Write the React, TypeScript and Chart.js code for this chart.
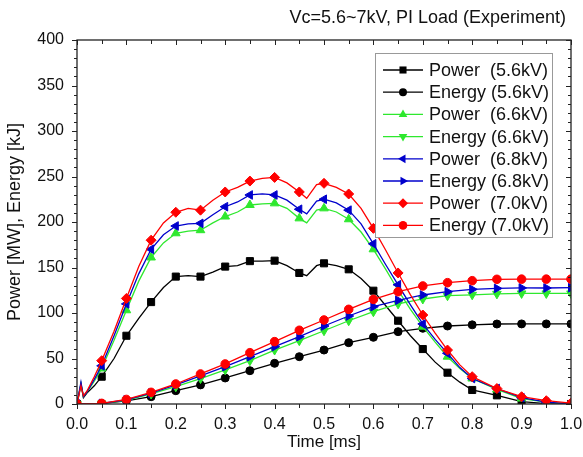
import React, { useEffect, useRef } from "react";
import { Chart, registerables } from "chart.js";
Chart.register(...registerables);

const TITLE = "Vc=5.6~7kV, PI Load (Experiment)";
const X_TITLE = "Time [ms]";
const Y_TITLE = "Power [MW], Energy [kJ]";
const FONT = "'Liberation Sans', Arial, sans-serif";

// Power curves: time [ms]
const powerTime = [
  0, 0.008, 0.013, 0.02, 0.035, 0.05, 0.075, 0.1, 0.125, 0.15, 0.175, 0.2, 0.225, 0.25, 0.275,
  0.3, 0.325, 0.35, 0.375, 0.4, 0.425, 0.45, 0.465, 0.485, 0.5, 0.525, 0.55, 0.575, 0.6, 0.625,
  0.65, 0.675, 0.7, 0.725, 0.75, 0.775, 0.8, 0.85, 0.9, 0.95, 1.0,
];
const power56 = [
  0, 22, 7, 12, 20, 30, 50, 75, 94, 112, 128, 140, 141, 140, 145,
  151, 152, 157, 157, 157.5, 152, 144, 141, 152, 154.6, 152, 148, 138, 124.5, 108,
  91.5, 75, 60.4, 46, 34.4, 24, 15.4, 9.5, 2.5, 0.5, 0,
];
const power66 = [
  0, 22, 8, 13, 25, 39, 70, 103, 135, 161, 177, 187.6, 190, 191, 199,
  206, 211, 218.7, 220, 220.5, 215, 204, 199, 213, 215, 211, 203, 189, 170, 148,
  125, 104, 85, 68, 52, 39, 28, 16, 6, 2, 0,
];
const power68 = [
  0, 24, 8, 13, 27, 42, 75, 110, 143, 170, 186, 195.6, 198, 198.5, 208,
  216.8, 222, 229.7, 231, 229.7, 224, 214, 209, 223, 225, 221, 213, 198, 176, 153,
  131, 109, 88, 71, 55.7, 40, 28, 17, 7, 2, 0,
];
const power70 = [
  0, 20, 9, 14, 30, 47.6, 80, 116, 151, 180, 199, 210.7, 215, 213, 224,
  233, 238, 245, 248, 249, 243, 233, 226, 241, 242.5, 238, 230.8, 215, 193, 169,
  144, 120, 97.8, 78, 59.3, 43, 30, 17, 8, 3.6, 1,
];

// Energy curves: time [ms]
const energyTime = [
  0, 0.05, 0.1, 0.15, 0.2, 0.25, 0.3, 0.35, 0.4, 0.45, 0.5, 0.55, 0.6, 0.65, 0.7, 0.75, 0.8, 0.85, 0.9, 0.95, 1.0,
];
const energy56 = [0, 0.5, 3.5, 8, 14.6, 21, 28.6, 36.6, 44.7, 52, 59.3, 67.4, 73.3, 79.5, 83.2, 85.7, 87, 87.9, 88, 88, 88];
const energy66 = [0, 0.5, 4, 11, 19, 28, 37.6, 47.6, 59.3, 69.6, 80.5, 91.5, 101.4, 110, 115.4, 119, 120, 121, 121.5, 121.5, 121.5];
const energy68 = [0, 0.6, 4.5, 12, 21, 31, 41, 52, 63, 74, 85.7, 96.7, 107, 114, 119.8, 123.4, 126, 127, 127.5, 127.5, 127.8];
const energy70 = [0, 0.7, 5, 12.8, 22, 33, 44, 56.4, 68.5, 81, 92.3, 104, 115, 123.4, 129.7, 133.3, 135.5, 137, 137.2, 137.2, 137.2];

const BLACK = "#000000";
const GREEN = "#2ee82e";
const BLUE = "#0000cc";
const RED = "#ff0000";

type Series = {
  label: string;
  time: number[];
  values: number[];
  color: string;
  style: string;
  rotation: number;
  radius: number;
  order: number;
};

const SERIES: Series[] = [
  { label: "Power  (5.6kV)", time: powerTime, values: power56, color: BLACK, style: "rect", rotation: 0, radius: 5, order: 7 },
  { label: "Energy (5.6kV)", time: energyTime, values: energy56, color: BLACK, style: "circle", rotation: 0, radius: 4, order: 6 },
  { label: "Power  (6.6kV)", time: powerTime, values: power66, color: GREEN, style: "triangle", rotation: 0, radius: 5, order: 5 },
  { label: "Energy (6.6kV)", time: energyTime, values: energy66, color: GREEN, style: "triangle", rotation: 180, radius: 5, order: 4 },
  { label: "Power  (6.8kV)", time: powerTime, values: power68, color: BLUE, style: "triangle", rotation: 270, radius: 5, order: 3 },
  { label: "Energy (6.8kV)", time: energyTime, values: energy68, color: BLUE, style: "triangle", rotation: 90, radius: 5, order: 2 },
  { label: "Power  (7.0kV)", time: powerTime, values: power70, color: RED, style: "rectRot", rotation: 0, radius: 5, order: 1 },
  { label: "Energy (7.0kV)", time: energyTime, values: energy70, color: RED, style: "circle", rotation: 0, radius: 4.3, order: 0 },
];

const isMarker = (x: number) => Math.abs(x * 20 - Math.round(x * 20)) < 1e-6;

function drawMarker(ctx: CanvasRenderingContext2D, style: string, x: number, y: number, r: number, rotDeg: number) {
  const rad = (rotDeg * Math.PI) / 180;
  ctx.beginPath();
  if (style === "circle") {
    ctx.arc(x, y, r, 0, Math.PI * 2);
  } else if (style === "rect") {
    const s = r * Math.SQRT1_2;
    ctx.rect(x - s, y - s, 2 * s, 2 * s);
  } else if (style === "rectRot") {
    const s = r;
    ctx.moveTo(x, y - s);
    ctx.lineTo(x + s, y);
    ctx.lineTo(x, y + s);
    ctx.lineTo(x - s, y);
    ctx.closePath();
  } else if (style === "triangle") {
    let a = rad;
    ctx.moveTo(x + Math.sin(a) * r, y - Math.cos(a) * r);
    a += (2 * Math.PI) / 3;
    ctx.lineTo(x + Math.sin(a) * r, y - Math.cos(a) * r);
    a += (2 * Math.PI) / 3;
    ctx.lineTo(x + Math.sin(a) * r, y - Math.cos(a) * r);
    ctx.closePath();
  }
  ctx.fill();
}

const framePlugin = {
  id: "frame",
  afterDatasetsDraw(chart: any) {
    const { ctx, chartArea: a, scales } = chart;
    const xs = scales.x;
    const ys = scales.y;
    ctx.save();
    ctx.strokeStyle = "#222";
    ctx.lineWidth = 1.3;
    ctx.strokeRect(a.left, a.top, a.right - a.left, a.bottom - a.top);
    ctx.lineWidth = 1;
    const line = (x1: number, y1: number, x2: number, y2: number) => {
      ctx.beginPath();
      ctx.moveTo(x1, y1);
      ctx.lineTo(x2, y2);
      ctx.stroke();
    };
    for (let i = 0; i <= 20; i++) {
      const px = Math.round(xs.getPixelForValue(i * 0.05)) + 0.5;
      const len = i % 2 === 0 ? 5 : 4;
      line(px, a.bottom, px, a.bottom + len);
      line(px, a.top, px, a.top + len);
    }
    for (let i = 0; i <= 40; i++) {
      const py = Math.round(ys.getPixelForValue(i * 10)) + 0.5;
      const len = i % 5 === 0 ? 5 : 3;
      line(a.left - len, py, a.left, py);
      line(a.right - len, py, a.right, py);
    }
    ctx.restore();
  },
};

const legendPlugin = {
  id: "customLegend",
  afterDraw(chart: any) {
    const { ctx } = chart;
    ctx.save();
    ctx.fillStyle = "#fff";
    ctx.fillRect(375.5, 53.5, 177, 184);
    ctx.strokeStyle = "#999";
    ctx.lineWidth = 1;
    ctx.strokeRect(375.5, 53.5, 177, 184);
    SERIES.forEach((s, i) => {
      const y = 70 + i * 22.2;
      ctx.strokeStyle = s.color;
      ctx.fillStyle = s.color;
      ctx.lineWidth = 1.3;
      ctx.beginPath();
      ctx.moveTo(383, y);
      ctx.lineTo(423, y);
      ctx.stroke();
      drawMarker(ctx, s.style, 403, y, s.radius, s.rotation);
      ctx.fillStyle = "#111";
      ctx.font = `18px ${FONT}`;
      ctx.textBaseline = "middle";
      ctx.textAlign = "left";
      ctx.fillText(s.label, 429, y + 1);
    });
    ctx.font = `18px ${FONT}`;
    ctx.textAlign = "right";
    ctx.textBaseline = "middle";
    ctx.fillStyle = "#111";
    ctx.fillText(TITLE, 566, 18);
    ctx.restore();
  },
};

export default function App() {
  const ref = useRef<HTMLCanvasElement | null>(null);
  useEffect(() => {
    if (!ref.current) return;
    const datasets = SERIES.map((s) => ({
      label: s.label,
      data: s.time.map((t, i) => ({ x: t, y: s.values[i] })),
      borderColor: s.color,
      backgroundColor: s.color,
      borderWidth: 1.3,
      pointStyle: s.style,
      pointRotation: s.rotation,
      pointRadius: (c: any) => (c.raw && isMarker(c.raw.x) ? s.radius : 0),
      pointBorderWidth: 1,
      pointHoverRadius: 0,
      tension: 0,
      order: s.order,
    }));
    const chart = new Chart(ref.current, {
      type: "line",
      data: { datasets },
      options: {
        animation: false,
        responsive: true,
        maintainAspectRatio: false,
        layout: { padding: { top: 40, right: 12, left: 0, bottom: 0 } },
        plugins: { legend: { display: false }, tooltip: { enabled: false } },
        scales: {
          x: {
            type: "linear",
            min: 0,
            max: 1,
            grid: { display: false, drawTicks: false },
            border: { display: false },
            ticks: {
              stepSize: 0.1,
              padding: 11,
              color: "#111",
              font: { family: FONT, size: 16 },
              callback: (v: any) => Number(v).toFixed(1),
              maxRotation: 0,
            },
            title: {
              display: true,
              text: X_TITLE,
              color: "#111",
              font: { family: FONT, size: 17 },
              padding: { top: 0, bottom: 4 },
            },
            afterFit: (sc: any) => {
              sc.height = 53;
              sc.paddingLeft = 0;
              sc.paddingRight = 0;
            },
          },
          y: {
            type: "linear",
            min: 0,
            max: 400,
            grid: { display: false, drawTicks: false },
            border: { display: false },
            ticks: {
              stepSize: 50,
              padding: 13,
              color: "#111",
              font: { family: FONT, size: 16 },
            },
            title: {
              display: true,
              text: Y_TITLE,
              color: "#111",
              font: { family: FONT, size: 18 },
              padding: { top: 4, bottom: 0 },
            },
            afterFit: (sc: any) => {
              sc.width = 77;
              sc.paddingTop = 0;
              sc.paddingBottom = 0;
            },
          },
        },
      },
      plugins: [framePlugin, legendPlugin],
    });
    return () => chart.destroy();
  }, []);
  return (
    <div style={{ position: "fixed", left: 0, top: 0, width: 583, height: 457, background: "#fff" }}>
      <canvas ref={ref} />
    </div>
  );
}
